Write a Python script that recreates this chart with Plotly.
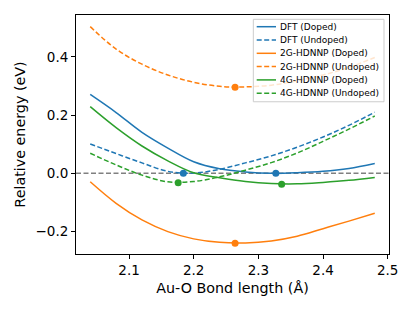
import plotly.graph_objects as go

# Bond lengths (Å) at which curves are read
bond_length = [2.04, 2.08, 2.12, 2.16, 2.20, 2.24, 2.28, 2.32, 2.36, 2.40, 2.44, 2.48]

dft_doped = [0.271, 0.209, 0.141, 0.087, 0.040, 0.016, 0.005, 0.000, 0.002, 0.007, 0.017, 0.034]
dft_undoped = [0.101, 0.068, 0.036, 0.007, 0.001, 0.014, 0.036, 0.060, 0.090, 0.125, 0.165, 0.210]
g2_doped = [-0.029, -0.103, -0.160, -0.200, -0.225, -0.237, -0.239, -0.232, -0.216, -0.190, -0.164, -0.137]
g2_undoped = [0.504, 0.427, 0.375, 0.338, 0.313, 0.299, 0.297, 0.303, 0.318, 0.338, 0.364, 0.398]
g4_doped = [0.229, 0.157, 0.094, 0.043, 0.002, -0.015, -0.028, -0.035, -0.036, -0.031, -0.024, -0.014]
g4_undoped = [0.069, 0.029, -0.006, -0.029, -0.028, -0.012, 0.011, 0.037, 0.070, 0.110, 0.152, 0.197]

series_names = ["DFT (Doped)", "DFT (Undoped)", "2G-HDNNP (Doped)",
                "2G-HDNNP (Undoped)", "4G-HDNNP (Doped)", "4G-HDNNP (Undoped)"]
series_values = [dft_doped, dft_undoped, g2_doped, g2_undoped, g4_doped, g4_undoped]

# Minima (marked points)
min_x = [2.327, 2.184, 2.264, 2.264, 2.336, 2.176]
min_y = [0.000, 0.000, -0.2405, 0.296, -0.037, -0.032]

x_ticks = [2.1, 2.2, 2.3, 2.4, 2.5]
y_ticks = [-0.2, 0.0, 0.2, 0.4]
y_tick_labels = ["\u22120.2", "0.0", "0.2", "0.4"]

colors = ["#1f77b4", "#1f77b4", "#ff7f0e", "#ff7f0e", "#2ca02c", "#2ca02c"]
dashes = ["solid", "5px,2.5px", "solid", "5px,2.5px", "solid", "5px,2.5px"]

fig = go.Figure()

# zero reference line
fig.add_trace(go.Scatter(x=[2.018, 2.502], y=[0, 0], mode="lines",
                         line=dict(color="gray", width=1.5, dash="5px,2.5px"),
                         showlegend=False, hoverinfo="skip"))

for name, vals, c, d in zip(series_names, series_values, colors, dashes):
    fig.add_trace(go.Scatter(x=bond_length, y=vals, mode="lines", name=name, showlegend=False,
                             line=dict(color=c, width=1.5, dash=d, shape="spline", smoothing=1.0)))

for mx, my, c in zip(min_x, min_y, colors):
    fig.add_trace(go.Scatter(x=[mx], y=[my], mode="markers",
                             marker=dict(color=c, size=7), showlegend=False))

# Compact legend (matplotlib-style), drawn in paper coordinates
shapes = [dict(type="rect", xref="paper", yref="paper", x0=0.5665, x1=0.984, y0=0.637, y1=0.982,
               fillcolor="rgba(255,255,255,0.8)", line=dict(color="#cccccc", width=1), layer="above")]
annotations = []
for i, (name, c, d) in enumerate(zip(series_names, colors, dashes)):
    yy = (254 - (26.7 + 13.3 * i)) / 239
    shapes.append(dict(type="line", xref="paper", yref="paper", x0=0.5773, x1=0.639, y0=yy, y1=yy,
                       line=dict(color=c, width=1.5, dash=d), layer="above"))
    annotations.append(dict(xref="paper", yref="paper", x=0.6445, y=yy, text=name, showarrow=False,
                            xanchor="left", yanchor="middle", font=dict(size=9, color="black")))

axis_common = dict(showline=True, linecolor="black", linewidth=1, mirror=True,
                   ticks="outside", ticklen=4, tickwidth=1, tickcolor="black",
                   showgrid=False, zeroline=False,
                   tickfont=dict(size=13.5, color="black"))

fig.update_layout(
    width=415, height=311,
    margin=dict(l=68, r=34, t=7, b=65),
    paper_bgcolor="white", plot_bgcolor="white",
    font=dict(family="DejaVu Sans", color="black"),
    xaxis=dict(range=[2.018, 2.502], tickvals=x_ticks, ticktext=[f"{v:.1f}" for v in x_ticks],
               title=dict(text="Au-O Bond length (Å)", font=dict(size=14.3), standoff=5),
               **axis_common),
    yaxis=dict(range=[-0.277, 0.544], tickvals=y_ticks, ticktext=y_tick_labels,
               title=dict(text="Relative energy (eV)", font=dict(size=14.3), standoff=6),
               **axis_common),
    shapes=shapes,
    annotations=annotations,
    showlegend=False,
)

fig.write_html("out.html")
